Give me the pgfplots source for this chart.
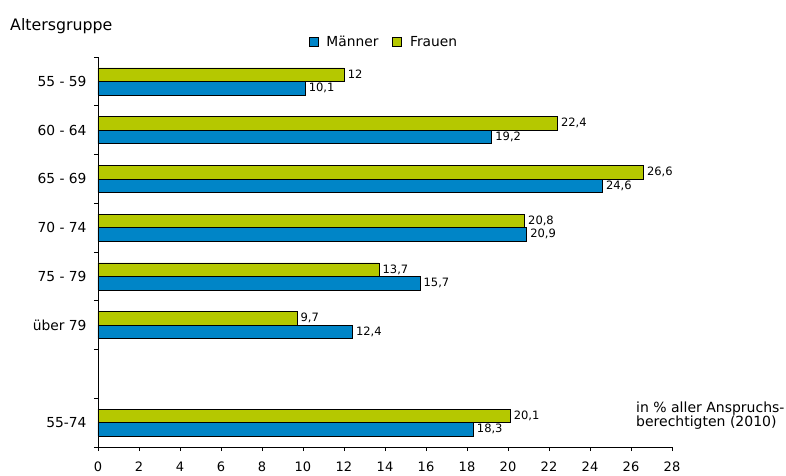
\documentclass[border=0pt]{standalone}
\usepackage{pgfplots}
\pgfplotsset{compat=1.18}
\usepackage{fontspec}
\setmainfont{DejaVu Sans}
\definecolor{mblue}{RGB}{0,133,199}
\definecolor{fgreen}{RGB}{181,200,0}
\begin{document}
\begin{tikzpicture}[x=1pt,y=1pt]
\path[use as bounding box] (-98,-28) rectangle (688,447);
\begin{axis}[at={(0,0)}, anchor=south west, scale only axis,
  width=574pt, height=390pt,
  xmin=0, xmax=28, ymin=-0.5, ymax=7.5,
  xbar, bar width=13.5pt,
  axis x line*=bottom, axis y line*=left,
  /pgf/number format/assume math mode=true,
  xtick={0,2,...,28},
  ytick={0,2,3,4,5,6,7},
  yticklabels={55-74,über 79,75 - 79,70 - 74,65 - 69,60 - 64,55 - 59},
  minor ytick={-0.5,0.5,...,7.5},
  tick align=outside,
  major tick length=4pt, minor tick length=4pt,
  major y tick style={draw=none},
  tick style={black, line width=0.6pt},
  axis line style={black, line width=0.6pt},
  xticklabel style={font=\fontsize{13}{15}\selectfont, yshift=-7pt},
  yticklabel style={font=\fontsize{13.8}{16}\selectfont, xshift=-4pt},
  clip=false,
  nodes near coords,
  nodes near coords style={font=\fontsize{11.5}{14}\selectfont, /pgf/number format/use comma, /pgf/number format/assume math mode=true, inner xsep=3.5pt, inner ysep=1pt, black},
  legend columns=2,
  legend style={at={(0.5,1.038)}, anchor=center, draw=none, font=\fontsize{13.8}{16}\selectfont,
    nodes={inner xsep=4pt},
    /tikz/every odd column/.append style={column sep=4pt},
    /tikz/every even column/.append style={column sep=10pt}},
  legend image code/.code={\draw[#1,draw=black,line width=0.6pt] (0pt,-4.5pt) rectangle (9pt,4.5pt);},
]
\addplot[fill=mblue, draw=black, line width=0.6pt, bar shift=-6.75pt] coordinates {
 (18.3,0) (12.4,2) (15.7,3) (20.9,4) (24.6,5) (19.2,6) (10.1,7)};
\addplot[fill=fgreen, draw=black, line width=0.6pt, bar shift=6.75pt] coordinates {
 (20.1,0) (9.7,2) (13.7,3) (20.8,4) (26.6,5) (22.4,6) (12,7)};
\legend{Männer, Frauen}
\end{axis}
\node[anchor=base west, font=\fontsize{15.8}{18}\selectfont, inner sep=0pt] at (-88,417) {Altersgruppe};
\node[anchor=base west, font=\fontsize{14}{16}\selectfont, inner sep=0pt] at (538,35) {in \% aller Anspruchs-};
\node[anchor=base west, font=\fontsize{14}{16}\selectfont, inner sep=0pt] at (538,21) {berechtigten (2010)};
\end{tikzpicture}
\end{document}
